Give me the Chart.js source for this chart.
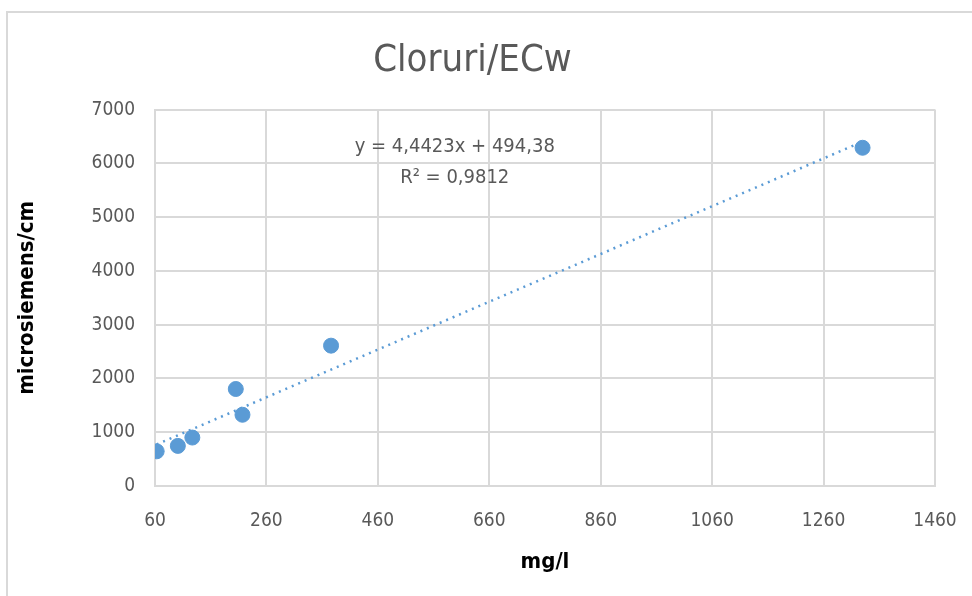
<!DOCTYPE html>
<html>
<head>
<meta charset="utf-8">
<script src="https://cdn.jsdelivr.net/npm/chart.js@4.4.1/dist/chart.umd.min.js"></script>
<style>
  html, body { margin: 0; padding: 0; background: #fff; }
  #wrap { position: relative; width: 972px; height: 596px; overflow: hidden; }
  #frame { position: absolute; left: 6px; top: 11px; width: 990px; height: 610px; border: 2px solid #d9d9d9; box-sizing: border-box; }
  canvas { position: absolute; left: 0; top: 0; }
</style>
</head>
<body>
<div id="wrap">
  <div id="frame"></div>
  <canvas id="chart" width="972" height="596"></canvas>
</div>
<script>
const FONT = '"Liberation Sans Narrow", "DejaVu Sans Condensed", "Liberation Sans", sans-serif';

// cloruri (mg/l) vs ECw (microsiemens/cm)
const chlorides = [63, 101, 127, 205, 217, 376, 1330];
const ecw = [645, 746, 901, 1804, 1325, 2610, 6290];

// linear trendline as reported by the spreadsheet, drawn between first and last sample
const trendX = [63, 1330];
const trendY = [774, 6403];
const trendLabel = ['y = 4,4423x + 494,38', 'R² = 0,9812'];
const labelAt = { x: 598, y: 6306 };

const xTicks = [60, 260, 460, 660, 860, 1060, 1260, 1460];
const yTicks = [0, 1000, 2000, 3000, 4000, 5000, 6000, 7000];

const points = chlorides.map((x, i) => ({ x: x, y: ecw[i] }));
const trend = trendX.map((x, i) => ({ x: x, y: trendY[i] }));

const equationPlugin = {
    id: 'equation',
    afterDatasetsDraw(chart) {
        const ctx = chart.ctx;
        const px = chart.scales.x.getPixelForValue(labelAt.x);
        const py = chart.scales.y.getPixelForValue(labelAt.y);
        ctx.save();
        ctx.font = '20px ' + FONT;
        ctx.fillStyle = '#595959';
        ctx.textAlign = 'center';
        ctx.textBaseline = 'middle';
        ctx.fillText(trendLabel[0], px, py);
        ctx.fillText(trendLabel[1], px, py + 31);
        ctx.restore();
    }
};

new Chart(document.getElementById('chart'), {
    type: 'scatter',
    data: {
        datasets: [
            {
                label: 'ECw',
                data: points,
                backgroundColor: '#5b9bd5',
                borderColor: '#5b9bd5',
                pointRadius: 7.5,
                pointHoverRadius: 7.5
            },
            {
                label: 'Trend',
                type: 'line',
                data: trend,
                borderColor: '#5b9bd5',
                borderWidth: 2.5,
                borderDash: [2, 5],
                pointRadius: 0,
                fill: false
            }
        ]
    },
    options: {
        responsive: false,
        animation: false,
        layout: { padding: { left: 10, right: 37, top: 0, bottom: 0 } },
        plugins: {
            legend: { display: false },
            tooltip: { enabled: false },
            title: {
                display: true,
                text: 'Cloruri/ECw',
                color: '#595959',
                font: { family: FONT, size: 38, weight: 'normal' },
                padding: { top: 38, bottom: 26 }
            }
        },
        scales: {
            x: {
                type: 'linear',
                min: 60,
                max: 1460,
                afterBuildTicks(axis) { axis.ticks = xTicks.map(v => ({ value: v })); },
                afterFit(axis) {
                    axis.height = 110;
                    // keep the plot edge where the reference has it, labels may overhang
                    axis.paddingLeft = 0;
                    axis.paddingRight = 0;
                },
                grid: { color: '#d9d9d9', lineWidth: 2, drawTicks: false },
                border: { color: '#d9d9d9', width: 2 },
                ticks: {
                    color: '#595959',
                    font: { family: FONT, size: 19 },
                    padding: 24,
                    maxRotation: 0,
                    callback: v => String(v)
                },
                title: {
                    display: true,
                    text: 'mg/l',
                    color: '#000',
                    font: { family: FONT, size: 22, weight: 'bold' },
                    padding: { top: 6, bottom: 21 }
                }
            },
            y: {
                min: 0,
                max: 7000,
                afterBuildTicks(axis) { axis.ticks = yTicks.map(v => ({ value: v })); },
                afterFit(axis) { axis.width = 145; },
                grid: { color: '#d9d9d9', lineWidth: 2, drawTicks: false },
                border: { color: '#d9d9d9', width: 2 },
                ticks: {
                    color: '#595959',
                    font: { family: FONT, size: 19 },
                    padding: 20,
                    callback: v => String(v)
                },
                title: {
                    display: true,
                    text: 'microsiemens/cm',
                    color: '#000',
                    font: { family: FONT, size: 22, weight: 'bold' },
                    padding: { bottom: 0 }
                }
            }
        }
    },
    plugins: [equationPlugin]
});
</script>
</body>
</html>
